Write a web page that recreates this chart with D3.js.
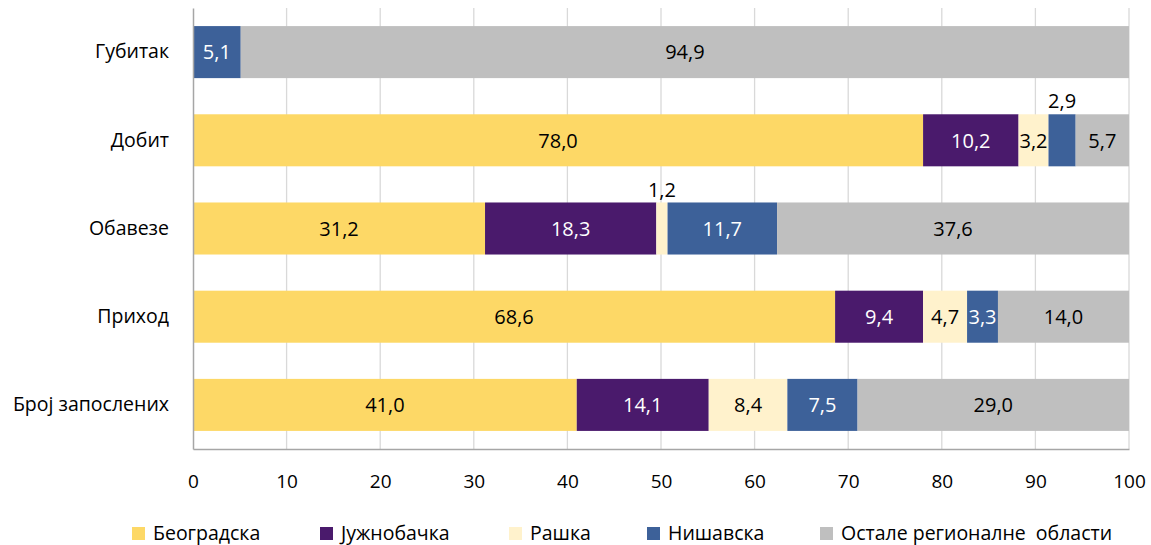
<!DOCTYPE html>
<html>
<head>
<meta charset="utf-8">
<script src="https://cdn.jsdelivr.net/npm/d3@7"></script>
<style>
  body { margin: 0; background: #fff; }
  text { font-family: "Open Sans", sans-serif; }
</style>
</head>
<body>
<div id="chart"></div>
<script>
const width = 1151, height = 545;

const categories = ["Губитак", "Добит", "Обавезе", "Приход", "Број запослених"];
const seriesNames = ["Београдска", "Јужнобачка", "Рашка", "Нишавска", "Остале регионалне  области"];
const beogradska = [0, 78.0, 31.2, 68.6, 41.0];
const juznobacka = [0, 10.2, 18.3, 9.4, 14.1];
const raska = [0, 3.2, 1.2, 4.7, 8.4];
const nisavska = [5.1, 2.9, 11.7, 3.3, 7.5];
const ostale = [94.9, 5.7, 37.6, 14.0, 29.0];
const xTicks = [0, 10, 20, 30, 40, 50, 60, 70, 80, 90, 100];

const colors = ["#FDD866", "#4A1A6C", "#FFF2CC", "#3D6199", "#BFBFBF"];
const labelColors = ["#000", "#fff", "#000", "#fff", "#000"];

const seriesValues = [beogradska, juznobacka, raska, nisavska, ostale];
const rows = categories.map((c, i) => {
  const r = { cat: c };
  seriesNames.forEach((s, j) => r[s] = seriesValues[j][i]);
  return r;
});
const stacked = d3.stack().keys(seriesNames)(rows);

const svg = d3.select("#chart").append("svg")
  .attr("width", width).attr("height", height);

const x = d3.scaleLinear().domain([0, 100]).range([193, 1129]);
const y = d3.scaleBand().domain(categories).range([8, 449]).paddingInner(0.41).paddingOuter(0.205);

// gridlines
svg.append("g").selectAll("line").data(xTicks.slice(1)).join("line")
  .attr("x1", d => x(d)).attr("x2", d => x(d))
  .attr("y1", 8).attr("y2", 449)
  .attr("stroke", "#D9D9D9").attr("stroke-width", 1.3);

// bars
const groups = svg.append("g").selectAll("g").data(stacked).join("g")
  .attr("fill", (d, i) => colors[i]);
groups.selectAll("rect").data(d => d).join("rect")
  .attr("x", d => x(d[0]))
  .attr("width", d => x(d[1]) - x(d[0]))
  .attr("y", d => y(d.data.cat))
  .attr("height", y.bandwidth());

// labels
stacked.forEach((s, i) => {
  s.forEach(d => {
    const v = d[1] - d[0];
    if (v <= 0) return;
    const small = v < 3.2;
    const cx = (x(d[0]) + x(d[1])) / 2;
    const cy = small ? y(d.data.cat) - 13 : y(d.data.cat) + y.bandwidth() / 2;
    svg.append("text")
      .attr("x", cx).attr("y", cy)
      .attr("dy", "0.36em")
      .attr("text-anchor", "middle")
      .attr("font-size", 20)
      .attr("fill", small ? "#000" : labelColors[i])
      .text(v.toFixed(1).replace(".", ","));
  });
});

// axes
const xAxis = svg.append("g").attr("transform", "translate(0,449)")
  .call(d3.axisBottom(x).tickValues(xTicks).tickSize(0).tickPadding(26));
xAxis.select(".domain").attr("stroke", "#A6A6A6").attr("stroke-width", 1.5);
xAxis.selectAll("text").attr("font-size", 19).attr("fill", "#000");

const yAxis = svg.append("g").attr("transform", "translate(193,0)")
  .call(d3.axisLeft(y).tickSize(0).tickPadding(24));
yAxis.select(".domain").attr("stroke", "#A6A6A6").attr("stroke-width", 1.5);
yAxis.selectAll("text").attr("font-size", 19.5).attr("fill", "#000");

// legend
const legendX = [132, 320, 509, 647, 820];
const legend = svg.append("g").selectAll("g").data(seriesNames).join("g")
  .attr("transform", (d, i) => `translate(${legendX[i]},533)`);
legend.append("rect")
  .attr("x", 0).attr("y", -6).attr("width", 13).attr("height", 13)
  .attr("fill", (d, i) => colors[i]);
legend.append("text")
  .attr("x", 21).attr("y", 0).attr("dy", "0.36em")
  .attr("font-size", 19.5)
  .style("white-space", "pre")
  .text(d => d);
</script>
</body>
</html>
